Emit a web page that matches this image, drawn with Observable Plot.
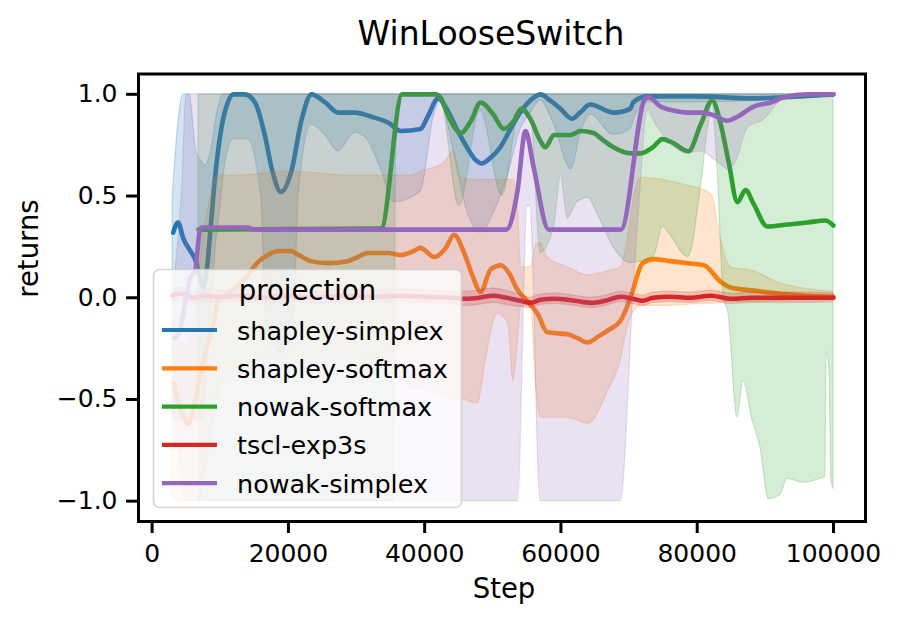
<!DOCTYPE html>
<html>
<head>
<meta charset="utf-8">
<script src="https://cdn.jsdelivr.net/npm/d3@7"></script>
<script src="https://cdn.jsdelivr.net/npm/@observablehq/plot@0.6"></script>
<style>
  html, body { margin: 0; padding: 0; background: white; }
  #chart { width: 900px; height: 623px; }
</style>
</head>
<body>
<div id="chart"></div>
<script>
const titleText = "WinLooseSwitch";
const xLabel = "Step";
const yLabel = "returns";
const legendTitle = "projection";
const seriesNames = ["shapley-simplex", "shapley-softmax", "nowak-softmax", "tscl-exp3s", "nowak-simplex"];
const seriesColors = ["#1f77b4", "#ff7f0e", "#2ca02c", "#d62728", "#9467bd"];
const xTicks = [0, 20000, 40000, 60000, 80000, 100000];
const yTicks = [-1.0, -0.5, 0.0, 0.5, 1.0];

// mean lines: [step, value]
const shapleySimplexMean = [[3100,0.32],[3800,0.37],[4600,0.29],[5600,0.23],[6300,0.19],[7100,0.09],[7500,0.05],[8000,0.13],[8600,0.35],[9200,0.58],[10200,0.84],[11000,0.95],[11900,1.0],[13600,1.0],[15100,0.96],[16600,0.79],[17600,0.63],[18900,0.52],[20500,0.63],[21900,0.87],[23400,1.0],[25400,0.96],[27300,0.91],[29800,0.91],[32200,0.89],[34700,0.86],[36500,0.82],[39400,0.83],[40300,0.88],[42000,0.98],[43200,0.93],[44700,0.83],[46200,0.74],[47400,0.68],[48400,0.66],[49400,0.68],[51100,0.74],[52600,0.83],[54000,0.91],[55500,0.97],[57000,1.0],[58400,0.97],[59900,0.93],[61600,0.88],[62800,0.91],[64300,0.95],[67700,0.91],[70200,0.93],[70600,0.96],[72600,0.99],[80000,0.99],[88000,0.98],[95000,0.99],[100000,1.0]];
const shapleySoftmaxMean = [[3200,-0.42],[4200,-0.55],[5300,-0.62],[6200,-0.52],[7200,-0.36],[8200,-0.22],[9100,-0.11],[9700,-0.01],[10600,0.01],[11600,0.03],[13500,0.09],[15700,0.18],[17000,0.21],[18500,0.23],[20400,0.23],[21500,0.21],[23300,0.18],[25800,0.17],[28700,0.18],[30200,0.2],[31600,0.22],[34600,0.22],[36500,0.21],[38400,0.23],[39400,0.245],[41400,0.2],[43100,0.245],[44300,0.31],[45800,0.22],[47000,0.11],[48200,0.03],[49700,0.14],[51200,0.16],[52400,0.12],[53600,0.04],[54600,0.0],[56600,-0.08],[58000,-0.17],[61000,-0.18],[62500,-0.2],[63900,-0.22],[65500,-0.19],[66900,-0.16],[68800,-0.11],[70200,0.0],[72000,0.17],[73600,0.19],[76000,0.18],[78600,0.17],[81000,0.16],[83400,0.08],[84900,0.05],[88300,0.035],[92200,0.02],[96200,0.01],[100000,0.005]];
const nowakSoftmaxMean = [[6800,0.335],[33600,0.34],[36700,1.0],[41600,1.0],[42400,0.98],[43400,0.9],[45300,0.81],[46800,0.87],[48200,0.96],[50100,0.9],[51600,0.83],[53100,0.87],[54200,0.93],[55500,0.88],[57000,0.77],[57700,0.74],[59000,0.8],[61400,0.8],[62900,0.82],[64800,0.81],[66000,0.78],[67700,0.74],[70200,0.71],[71700,0.71],[73500,0.74],[74900,0.78],[76500,0.76],[78700,0.72],[80500,0.85],[82200,0.97],[83400,0.86],[84600,0.67],[85900,0.47],[87100,0.53],[88300,0.46],[90300,0.35],[93300,0.36],[96200,0.37],[98800,0.38],[100000,0.355]];
const tsclExp3sMean = [[3000,0.01],[4000,0.02],[5000,0.015],[6000,0.0],[8000,0.01],[10000,0.005],[13000,0.01],[16000,0.0],[20000,0.01],[24000,0.0],[28000,0.01],[32000,0.005],[36000,0.01],[40000,0.005],[44000,0.0],[46000,-0.005],[48000,0.0],[50000,0.01],[52000,0.0],[54000,-0.015],[55500,-0.025],[57000,-0.01],[59000,-0.005],[61000,-0.01],[63000,-0.02],[64500,-0.025],[66500,-0.015],[68800,0.005],[70500,-0.005],[72000,-0.015],[73500,0.0],[76000,0.005],[79000,0.0],[82000,0.01],[85000,-0.005],[88000,0.0],[92000,0.0],[96000,0.0],[100000,0.0]];
const nowakSimplexMean = [[3300,-0.2],[4000,-0.17],[5000,0.0],[5600,0.1],[6300,0.13],[7000,0.33],[7300,0.345],[14000,0.345],[15000,0.335],[52000,0.335],[53600,0.52],[54800,0.82],[56000,0.64],[58200,0.335],[68800,0.335],[72400,0.98],[72900,0.985],[74600,0.94],[76500,0.92],[78600,0.91],[80500,0.91],[82200,0.9],[84400,0.87],[85900,0.89],[88300,0.94],[90800,0.96],[92700,0.985],[96200,1.0],[100000,1.0]];

// confidence bands: [step, low, high]
const shapleySimplexBand = [[3000,-0.6,0.5],[4600,-0.6,1],[5500,-0.6,1],[6500,-0.6,0.72],[7500,-0.6,0.66],[7800,-0.45,0.65],[8800,0.0,0.75],[9500,0.3,0.9],[9700,0.35,0.93],[10500,0.6,1],[10700,0.65,1],[12000,0.78,1],[14000,0.78,1],[16000,0.5,1],[16800,-0.15,1],[18900,-0.27,1],[20800,-0.15,1],[21500,0.5,1],[23400,0.85,1],[25400,0.8,1],[27300,0.72,1],[29800,0.81,1],[31500,0.78,1],[33600,0.63,1],[35500,0.47,1],[39400,0.52,1],[41400,0.9,1],[42300,0.97,1],[44300,0.71,1],[46300,0.42,1],[48200,0.32,1],[50200,0.42,1],[52200,0.6,1],[54100,0.83,1],[55600,0.91,1],[57000,0.97,1],[59000,0.85,1],[61500,0.63,1],[63000,0.82,1],[64400,0.9,1],[67700,0.8,1],[70200,0.83,1],[71000,0.9,1],[73000,0.96,1],[80000,0.96,1],[90000,0.97,1],[100000,1.0,1]];
const shapleySoftmaxBand = [[3000,-1.0,-0.1],[5000,-1.0,-0.25],[6500,-1.0,0.0],[7000,-1.0,0.15],[7500,-0.9,0.3],[8300,-0.75,0.45],[9000,-0.6,0.55],[9500,-0.5,0.6],[12000,-0.35,0.6],[20000,-0.3,0.62],[30000,-0.3,0.6],[36000,-0.35,0.6],[38000,-0.45,0.6],[39400,-0.45,0.62],[42800,-0.48,0.66],[44300,-0.5,0.72],[45300,-0.5,0.59],[47800,-0.52,0.58],[49000,-0.3,0.58],[50700,-0.08,0.58],[52300,-0.13,0.58],[53000,-0.41,0.58],[53600,-0.25,0.49],[54200,-0.04,0.15],[55600,-0.04,0.15],[56400,-0.45,0.26],[57000,-0.59,0.27],[58000,-0.59,0.2],[61000,-0.59,0.15],[64000,-0.62,0.11],[66900,-0.46,0.13],[68800,-0.3,0.15],[69300,-0.22,0.2],[70200,-0.1,0.38],[70500,-0.08,0.45],[71700,-0.04,0.59],[75000,-0.04,0.58],[78600,-0.035,0.55],[81000,-0.03,0.53],[82200,-0.03,0.5],[83400,-0.025,0.3],[84900,-0.02,0.15],[88300,-0.02,0.13],[92200,-0.015,0.07],[100000,-0.01,0.03]];
const nowakSoftmaxBand = [[6800,-1,1],[35500,-1,1],[35800,0.7,1],[36700,1,1],[41600,1,1],[42400,0.98,1],[45100,0.45,1],[48200,0.92,1],[51400,0.5,1],[54100,0.93,1],[55600,0.9,1],[57000,0.22,1],[59000,0.35,1],[60000,0.6,1],[61000,0.39,1],[62400,0.47,1],[64000,0.49,1],[65400,0.41,1],[67700,0.25,1],[70200,0.17,1],[73600,0.2,1],[75000,0.35,1],[76000,0.31,1],[78700,0.2,1],[80500,0.53,1],[81700,0.86,1],[82200,0.95,1],[83000,0.63,1],[83900,0.0,1],[84600,-0.08,1],[85900,-0.59,1],[86800,-0.41,1],[88100,-0.6,1],[89300,-0.74,1],[90500,-0.99,1],[92200,-0.97,1],[93300,-0.89,1],[95600,-0.91,1],[98100,-0.89,1],[98800,-0.88,1],[99000,-0.27,1],[99400,-0.35,1],[99700,-0.9,1],[100000,-0.94,1]];
const tsclExp3sBand = [[3000,-0.02,0.04],[4000,-0.01,0.05],[5000,-0.015,0.045],[6000,-0.03,0.03],[8000,-0.02,0.04],[10000,-0.025,0.035],[13000,-0.02,0.04],[16000,-0.03,0.03],[20000,-0.02,0.04],[24000,-0.03,0.03],[28000,-0.02,0.04],[32000,-0.025,0.035],[36000,-0.02,0.04],[40000,-0.025,0.035],[44000,-0.03,0.03],[46000,-0.04,0.03],[48000,-0.035,0.035],[50000,-0.025,0.045],[52000,-0.035,0.035],[54000,-0.045,0.015],[55500,-0.05,0.0],[57000,-0.035,0.015],[59000,-0.03,0.02],[61000,-0.035,0.015],[63000,-0.045,0.005],[64500,-0.05,0.0],[66500,-0.04,0.01],[68800,-0.02,0.03],[70500,-0.03,0.02],[72000,-0.04,0.01],[73500,-0.025,0.025],[76000,-0.02,0.03],[79000,-0.025,0.025],[82000,-0.015,0.035],[85000,-0.03,0.02],[88000,-0.025,0.025],[92000,-0.025,0.025],[96000,-0.025,0.025],[100000,-0.02,0.02]];
const nowakSimplexBand = [[3300,-0.6,0.1],[4500,-0.9,0.6],[5000,-1,1],[52000,-1,1],[53700,-1,1],[55100,0.45,1],[55500,0.45,1],[57000,-1,1],[68800,-1,1],[70600,0.0,1],[71700,0.55,1],[72700,0.92,1],[74000,0.85,1],[75500,0.78,1],[78600,0.71,1],[80500,0.72,1],[82900,0.67,1],[84700,0.63,1],[85700,0.67,1],[87500,0.84,1],[89600,0.87,1],[92300,0.97,1],[94000,1,1],[100000,1,1]];

const means = [shapleySimplexMean, shapleySoftmaxMean, nowakSoftmaxMean, tsclExp3sMean, nowakSimplexMean];
const bands = [shapleySimplexBand, shapleySoftmaxBand, nowakSoftmaxBand, tsclExp3sBand, nowakSimplexBand];

const marks = [];
seriesNames.forEach((name, i) => {
  const c = seriesColors[i];
  marks.push(Plot.lineY(means[i], {x: d => d[0], y: d => d[1], stroke: c, strokeWidth: 4.6, strokeLinejoin: "round", curve: "monotone-x"}));
  marks.push(Plot.areaY(bands[i], {x: d => d[0], y1: d => d[1], y2: d => d[2], fill: c, fillOpacity: 0.2, stroke: c, strokeOpacity: 0.22, strokeWidth: 1.2, curve: "monotone-x"}));
});

const fmtX = d3.format("d");
const fmtY = d3.format(".1f");

const svg = Plot.plot({
  width: 900,
  height: 623,
  marginLeft: 138,
  marginRight: 35,
  marginTop: 73.5,
  marginBottom: 102,
  style: {fontFamily: "DejaVu Sans", color: "black", background: "white", overflow: "visible"},
  x: {domain: [-2000, 104700]},
  y: {domain: [-1.1, 1.1]},
  marks: [
    ...marks,
    Plot.axisX({ticks: xTicks, tickFormat: fmtX, tickSize: 12, tickPadding: 11, fontSize: 25, strokeWidth: 3, label: null}),
    Plot.axisY({ticks: yTicks, tickFormat: fmtY, tickSize: 12, tickPadding: 9, fontSize: 25, strokeWidth: 3, label: null}),
    Plot.frame({stroke: "black", strokeWidth: 3}),
    Plot.text([titleText], {text: d => d, frameAnchor: "top", dy: -52, dx: -11, fontSize: 33}),
    Plot.text([xLabel], {text: d => d, frameAnchor: "bottom", dy: 76, dx: 2, fontSize: 27.5}),
    Plot.text([yLabel], {text: d => d, frameAnchor: "left", dx: -109, rotate: -90, fontSize: 27.5})
  ]
});

// legend (overlaid inside the axes, like matplotlib's)
const lg = d3.select(svg).append("g").attr("font-family", "DejaVu Sans").attr("text-anchor", "start");
lg.append("rect")
  .attr("x", 153.5).attr("y", 269.5).attr("width", 308).attr("height", 238)
  .attr("rx", 6).attr("ry", 6)
  .attr("fill", "white").attr("fill-opacity", 0.8)
  .attr("stroke", "#cccccc").attr("stroke-opacity", 0.8).attr("stroke-width", 1.7);
lg.append("text")
  .attr("x", 307.5).attr("y", 300).attr("text-anchor", "middle")
  .attr("font-size", 27.5).attr("fill", "black").text(legendTitle);
const rowY = [330, 368.3, 406.6, 444.9, 483.2];
seriesNames.forEach((name, i) => {
  lg.append("line")
    .attr("x1", 162).attr("x2", 217).attr("y1", rowY[i]).attr("y2", rowY[i])
    .attr("stroke", seriesColors[i]).attr("stroke-width", 4.2);
  lg.append("text")
    .attr("x", 237).attr("y", rowY[i] + 9.5).attr("text-anchor", "start")
    .attr("font-size", 25.5).attr("fill", "black").text(name);
});

document.getElementById("chart").appendChild(svg);
</script>
</body>
</html>
